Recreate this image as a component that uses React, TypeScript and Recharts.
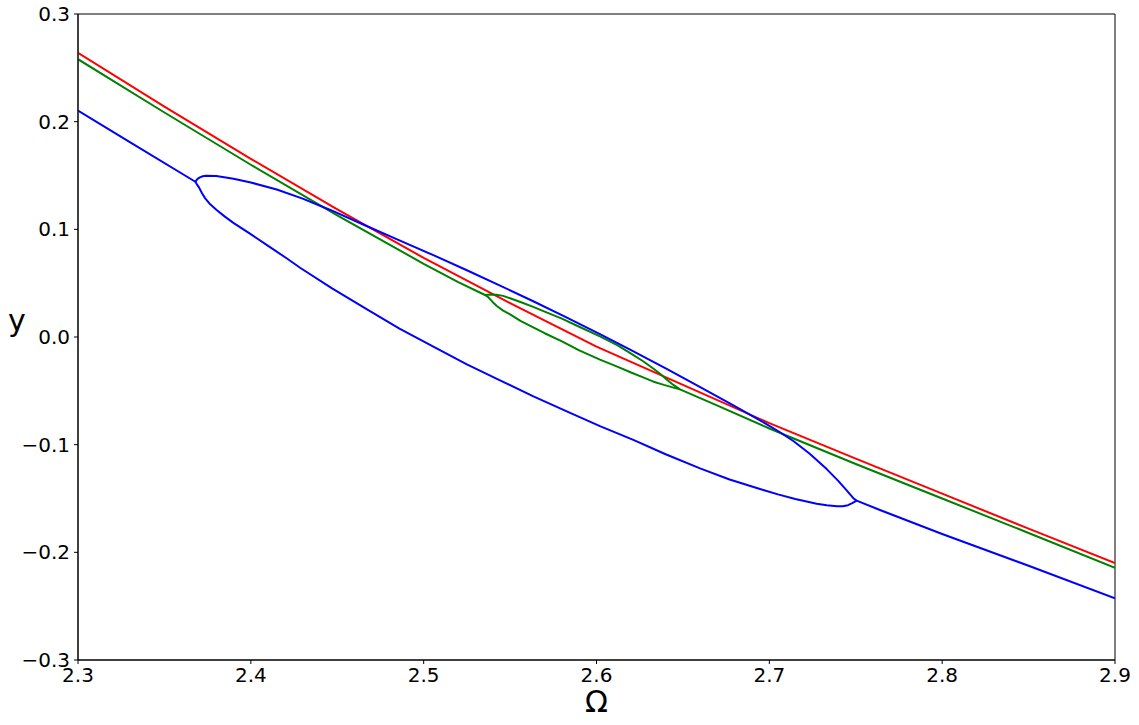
import React from 'react';
import { LineChart, Line, XAxis, YAxis, ReferenceArea } from 'recharts';

// Red branch
const redOmega = [2.30, 2.35, 2.40, 2.45, 2.50, 2.55, 2.60, 2.65, 2.70, 2.75, 2.80, 2.85, 2.90];
const redY = [0.264, 0.214, 0.1655, 0.1185, 0.0735, 0.0315, -0.009, -0.0445, -0.080, -0.113, -0.1455, -0.178, -0.210];

// Green branch (outer path incl. upper loop)
const greenOmega = [2.30, 2.35, 2.40, 2.45, 2.50, 2.52, 2.5355, 2.5385, 2.542, 2.546, 2.55, 2.556, 2.5634, 2.57, 2.58, 2.59, 2.602, 2.612, 2.62, 2.627, 2.633, 2.6375, 2.6406, 2.6445, 2.6483, 2.67, 2.70, 2.75, 2.80, 2.85, 2.90];
const greenY = [0.258, 0.2085, 0.160, 0.113, 0.068, 0.051, 0.039, 0.0395, 0.0393, 0.0382, 0.036, 0.0325, 0.028, 0.0235, 0.017, 0.0095, 0.0005, -0.0075, -0.0155, -0.0225, -0.0295, -0.0350, -0.0395, -0.0445, -0.0486, -0.0637, -0.085, -0.118, -0.150, -0.182, -0.2143];

// Green lower loop
const greenLoopOmega = [2.5355, 2.5372, 2.5388, 2.5405, 2.5423, 2.546, 2.55, 2.556, 2.5634, 2.57, 2.58, 2.59, 2.602, 2.612, 2.62, 2.627, 2.633, 2.639, 2.6445, 2.6483];
const greenLoopY = [0.039, 0.0372, 0.0345, 0.0315, 0.0288, 0.0245, 0.021, 0.015, 0.009, 0.0035, -0.004, -0.0125, -0.021, -0.0275, -0.033, -0.0375, -0.0415, -0.0445, -0.047, -0.0486];

// Blue branch (outer path incl. upper loop)
const blueOmega = [2.30, 2.33, 2.3679, 2.3692, 2.3705, 2.3722, 2.374, 2.38, 2.39, 2.40, 2.415, 2.43, 2.446, 2.465, 2.4863, 2.5056, 2.525, 2.5442, 2.5634, 2.582, 2.602, 2.62, 2.6406, 2.66, 2.6792, 2.6946, 2.705, 2.7139, 2.7232, 2.7332, 2.740, 2.745, 2.7486, 2.7505, 2.764, 2.80, 2.85, 2.90];
const blueY = [0.2102, 0.181, 0.1442, 0.1468, 0.1482, 0.1493, 0.1497, 0.1495, 0.147, 0.1435, 0.137, 0.1285, 0.118, 0.1045, 0.0895, 0.076, 0.062, 0.0478, 0.0332, 0.0187, 0.0027, -0.0122, -0.0297, -0.0466, -0.0635, -0.0774, -0.0873, -0.0966, -0.1082, -0.1227, -0.1339, -0.1429, -0.1497, -0.152, -0.1607, -0.183, -0.2125, -0.2427];

// Blue lower loop
const blueLoopOmega = [2.3679, 2.3688, 2.3700, 2.3716, 2.3735, 2.3765, 2.3802, 2.3850, 2.3899, 2.3995, 2.4100, 2.4207, 2.4285, 2.4470, 2.4670, 2.4860, 2.5056, 2.5250, 2.5442, 2.5635, 2.5828, 2.6020, 2.6213, 2.6400, 2.6599, 2.6770, 2.6946, 2.7050, 2.7150, 2.7274, 2.7332, 2.739, 2.7425, 2.7455, 2.748, 2.7505];
const blueLoopY = [0.1442, 0.1418, 0.1390, 0.1340, 0.1290, 0.1232, 0.1180, 0.1118, 0.1060, 0.0960, 0.0847, 0.0731, 0.0643, 0.0451, 0.0258, 0.0078, -0.0089, -0.0255, -0.0402, -0.0552, -0.0690, -0.0828, -0.0956, -0.1089, -0.1220, -0.1323, -0.1412, -0.1462, -0.1505, -0.1548, -0.1562, -0.1572, -0.1572, -0.1562, -0.1543, -0.1520];

const xTicks = [2.3, 2.4, 2.5, 2.6, 2.7, 2.8, 2.9];
const yTicks = [-0.3, -0.2, -0.1, 0.0, 0.1, 0.2, 0.3];

const toData = (xs: number[], ys: number[]) => xs.map((x, i) => ({ x, y: ys[i] }));

const redData = toData(redOmega, redY);
const greenData = toData(greenOmega, greenY);
const greenLoopData = toData(greenLoopOmega, greenLoopY);
const blueData = toData(blueOmega, blueY);
const blueLoopData = toData(blueLoopOmega, blueLoopY);

const FONT = '"DejaVu Sans", sans-serif';

const fmtY = (v: number) => (v < 0 ? '\u2212' + Math.abs(v).toFixed(1) : v.toFixed(1));
const fmtX = (v: number) => v.toFixed(1);

const YLabel = (props: any) => {
  const vb = props.viewBox || { x: 8, y: 14, width: 70, height: 646 };
  return (
    <text x={vb.x + 9} y={vb.y + vb.height / 2 - 6} textAnchor="middle" fontSize={30} fontFamily={FONT} fill="#000">
      y
    </text>
  );
};

const XLabel = (props: any) => {
  const vb = props.viewBox || { x: 78, y: 660, width: 1037, height: 60 };
  return (
    <text x={vb.x + vb.width / 2} y={vb.y + 52} textAnchor="middle" fontSize={30} fontFamily={FONT} fill="#000">
      Ω
    </text>
  );
};

export default function App() {
  const lineCommon = {
    dataKey: 'y',
    type: 'linear' as const,
    dot: false,
    activeDot: false,
    strokeWidth: 2,
    strokeLinejoin: 'round' as const,
    isAnimationActive: false,
  };
  return (
    <div style={{ position: 'absolute', left: 0, top: 0, width: 1139, height: 725, background: '#fff' }}>
      <LineChart width={1139} height={725} margin={{ top: 14, right: 24, bottom: 5, left: 8 }}>
        <XAxis
          dataKey="x"
          type="number"
          domain={[2.3, 2.9]}
          ticks={xTicks}
          tickFormatter={fmtX}
          allowDataOverflow
          height={60}
          tickSize={4}
          tickMargin={4}
          stroke="#000"
          tick={{ fontSize: 20, fontFamily: FONT, fill: '#000' }}
          label={XLabel}
        />
        <YAxis
          type="number"
          domain={[-0.3, 0.3]}
          ticks={yTicks}
          tickFormatter={fmtY}
          allowDataOverflow
          width={70}
          tickSize={4}
          tickMargin={4}
          stroke="#000"
          tick={{ fontSize: 20, fontFamily: FONT, fill: '#000' }}
          label={YLabel}
        />
        <ReferenceArea x1={2.3} x2={2.9} y1={-0.3} y2={0.3} fill="none" stroke="#000" strokeWidth={1} />
        <Line {...lineCommon} data={redData} stroke="#ff0000" />
        <Line {...lineCommon} data={greenData} stroke="#008000" />
        <Line {...lineCommon} data={greenLoopData} stroke="#008000" />
        <Line {...lineCommon} data={blueData} stroke="#0000ff" />
        <Line {...lineCommon} data={blueLoopData} stroke="#0000ff" />
      </LineChart>
    </div>
  );
}
